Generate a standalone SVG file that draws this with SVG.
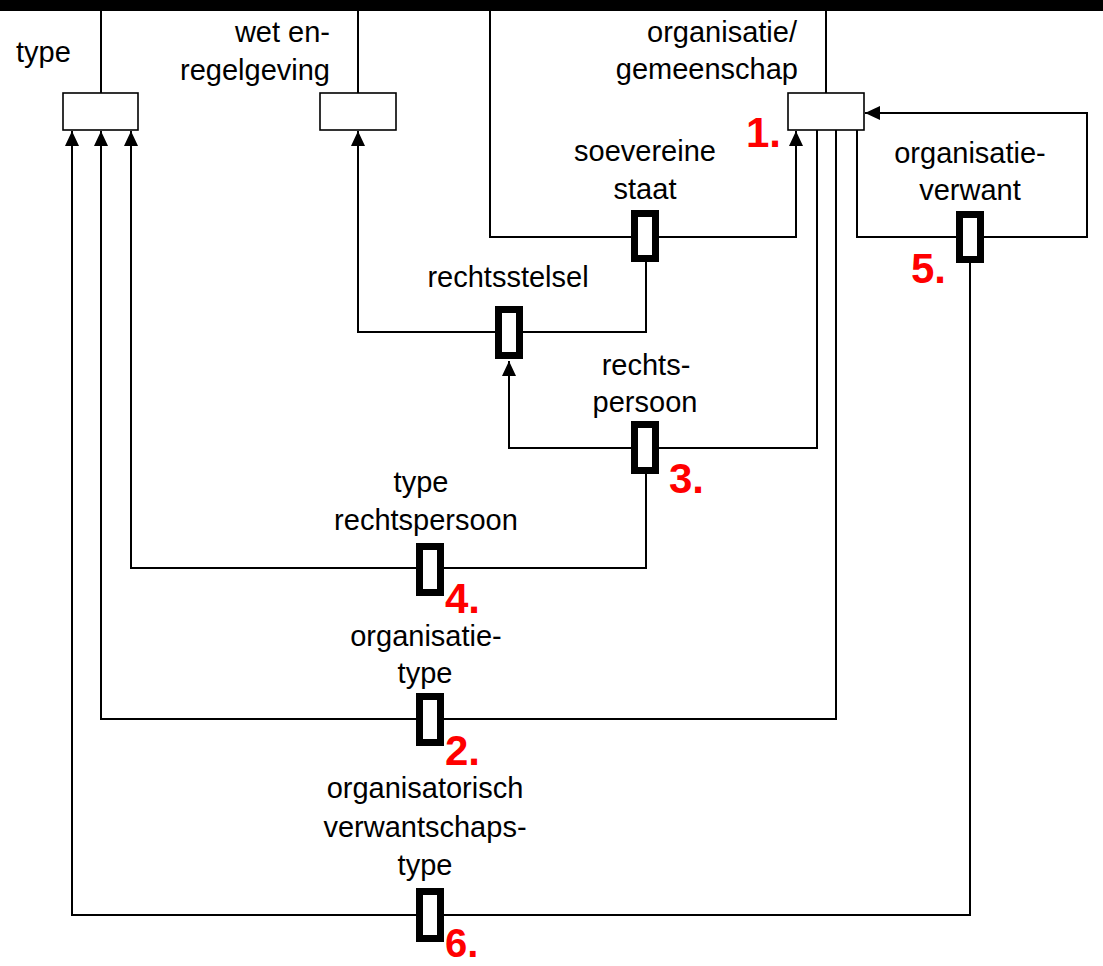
<svg xmlns="http://www.w3.org/2000/svg" width="1103" height="966" viewBox="0 0 1103 966">
<style>
.bg{fill:#ffffff}
.bar{fill:#000000}
.ent{fill:#ffffff;stroke:#000000;stroke-width:1.6}
.rel{fill:#ffffff;stroke:#000000;stroke-width:7}
.con{fill:none;stroke:#000000;stroke-width:2}
.lbl{font-family:"Liberation Sans",Arial,sans-serif;font-size:29px;fill:#000000}
.num{font-family:"Liberation Sans",Arial,sans-serif;font-size:42px;font-weight:bold;fill:#ff0000}
</style>
<defs>
<marker id="arr" markerUnits="userSpaceOnUse" markerWidth="15" markerHeight="14" viewBox="0 0 15 14" refX="15" refY="7" orient="auto">
<path d="M0,0 L15,7 L0,14 z" fill="#000000"/>
</marker>
</defs>
<rect class="bg" x="0" y="0" width="1103" height="966"/>
<rect class="bar" x="0" y="0" width="1103" height="11"/>
<g id="connectors">
<path class="con" d="M101,11 V93"/>
<path class="con" d="M358,11 V93"/>
<path class="con" d="M826,11 V93"/>
<path class="con" d="M490,11 V237 H796 V131" marker-end="url(#arr)"/>
<path class="con" d="M646,262 V332 H358 V131" marker-end="url(#arr)"/>
<path class="con" d="M817,130 V448 H509 V361" marker-end="url(#arr)"/>
<path class="con" d="M646,474 V568 H131 V131" marker-end="url(#arr)"/>
<path class="con" d="M836,130 V719 H101 V131" marker-end="url(#arr)"/>
<path class="con" d="M857,130 V237 H1087 V113 H865" marker-end="url(#arr)"/>
<path class="con" d="M970,263 V915 H72 V131" marker-end="url(#arr)"/>
</g>
<g id="type">
<rect class="ent" x="63" y="93" width="75" height="37"/>
<text class="lbl" x="16" y="62">type</text>
</g>
<g id="wet-en-regelgeving">
<rect class="ent" x="320" y="93" width="76" height="37"/>
<text class="lbl" x="330" y="42" text-anchor="end">wet en-</text>
<text class="lbl" x="330" y="80" text-anchor="end">regelgeving</text>
</g>
<g id="organisatie-gemeenschap">
<rect class="ent" x="788" y="93" width="76" height="37"/>
<text class="lbl" x="797" y="42" text-anchor="end">organisatie/</text>
<text class="lbl" x="798" y="79" text-anchor="end">gemeenschap</text>
</g>
<g id="soevereine-staat">
<rect class="rel" x="634.5" y="213.5" width="21" height="45"/>
<text class="lbl" x="645" y="161" text-anchor="middle">soevereine</text>
<text class="lbl" x="645" y="199" text-anchor="middle">staat</text>
<text class="num" x="746" y="147">1.</text>
</g>
<g id="organisatieverwant">
<rect class="rel" x="959.5" y="214.5" width="21" height="45"/>
<text class="lbl" x="970" y="163" text-anchor="middle">organisatie-</text>
<text class="lbl" x="970" y="200" text-anchor="middle">verwant</text>
<text class="num" x="911" y="283">5.</text>
</g>
<g id="rechtsstelsel">
<rect class="rel" x="498.5" y="309.5" width="21" height="46"/>
<text class="lbl" x="508" y="287" text-anchor="middle">rechtsstelsel</text>
</g>
<g id="rechtspersoon">
<rect class="rel" x="634.5" y="424.5" width="21" height="46"/>
<text class="lbl" x="646" y="375" text-anchor="middle">rechts-</text>
<text class="lbl" x="645" y="412" text-anchor="middle">persoon</text>
<text class="num" x="669" y="493">3.</text>
</g>
<g id="type-rechtspersoon">
<rect class="rel" x="419.5" y="546.5" width="21" height="46"/>
<text class="lbl" x="421" y="492" text-anchor="middle">type</text>
<text class="lbl" x="426" y="530" text-anchor="middle">rechtspersoon</text>
<text class="num" x="445" y="613">4.</text>
</g>
<g id="organisatietype">
<rect class="rel" x="419.5" y="696.5" width="21" height="46"/>
<text class="lbl" x="426" y="646" text-anchor="middle">organisatie-</text>
<text class="lbl" x="425" y="683" text-anchor="middle">type</text>
<text class="num" x="445" y="765">2.</text>
</g>
<g id="organisatorisch-verwantschapstype">
<rect class="rel" x="419.5" y="891.5" width="21" height="47"/>
<text class="lbl" x="425" y="798" text-anchor="middle">organisatorisch</text>
<text class="lbl" x="425" y="837" text-anchor="middle">verwantschaps-</text>
<text class="lbl" x="425" y="875" text-anchor="middle">type</text>
<text class="num" x="445" y="957" style="font-size:40px">6.</text>
</g>
</svg>
